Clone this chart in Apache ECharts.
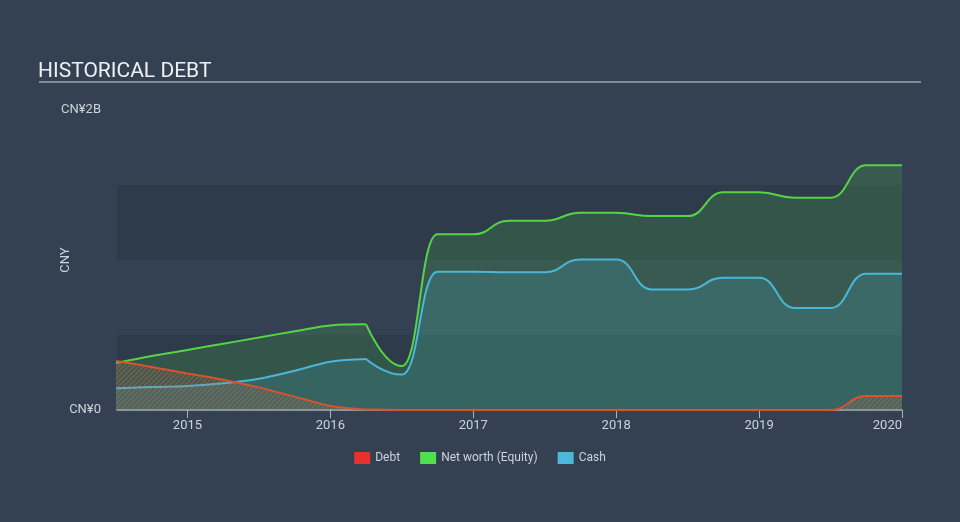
<!DOCTYPE html>
<html>
<head>
<meta charset="utf-8">
<script src="https://cdn.jsdelivr.net/npm/echarts@6/dist/echarts.min.js"></script>
<style>
html,body{margin:0;padding:0;background:#334152;}
#chart{width:960px;height:522px;}
</style>
</head>
<body>
<div id="chart"></div>
<script>
// Time points in decimal years (quarterly)
const periods = [2014.5, 2014.75, 2015.0, 2015.25, 2015.5, 2015.75, 2016.0, 2016.25, 2016.5, 2016.75,
  2017.0, 2017.25, 2017.5, 2017.75, 2018.0, 2018.25, 2018.5, 2018.75, 2019.0, 2019.25, 2019.5, 2019.75, 2020.0];
// Values in CNY billions
const debt = [0.327, 0.287, 0.243, 0.202, 0.151, 0.089, 0.027, 0.003, 0, 0,
  0, 0, 0, 0, 0, 0, 0, 0, 0, 0, 0, 0.093, 0.093];
const netWorth = [0.313, 0.36, 0.40, 0.442, 0.483, 0.525, 0.564, 0.571, 0.293, 1.171,
  1.171, 1.262, 1.262, 1.315, 1.315, 1.293, 1.293, 1.451, 1.451, 1.415, 1.415, 1.631, 1.631];
const cash = [0.145, 0.153, 0.16, 0.178, 0.209, 0.262, 0.322, 0.34, 0.236, 0.922,
  0.922, 0.918, 0.918, 1.004, 1.004, 0.804, 0.804, 0.882, 0.882, 0.68, 0.68, 0.909, 0.909];
const yearTicks = [2015, 2016, 2017, 2018, 2019, 2020];
const seriesNames = ['Debt', 'Net worth (Equity)', 'Cash'];
const SPLIT = 7; // index where the reporting switches from trend to step-like changes

function pairs(vals, from, to) {
  return periods.slice(from, to).map((p, i) => [p, vals[from + i] * 1e9]);
}

// hatch pattern for debt
const hatch = document.createElement('canvas');
hatch.width = 5; hatch.height = 5;
(function () {
  const c = hatch.getContext('2d');
  c.fillStyle = 'rgba(150,150,150,0.16)';
  c.fillRect(0, 0, 5, 5);
  c.strokeStyle = 'rgba(228,100,62,0.62)';
  c.lineWidth = 1.3;
  c.beginPath();
  c.moveTo(-1, 6); c.lineTo(6, -1);
  c.moveTo(-1, 1); c.lineTo(1, -1);
  c.moveTo(4, 6); c.lineTo(6, 4);
  c.stroke();
})();

const axisText = '#cdd3da';
const styles = {
  'Net worth (Equity)': {vals: netWorth, z: 2, color: '#4fe04f', line: '#55d446', area: 'rgba(80,210,80,0.25)'},
  'Cash': {vals: cash, z: 3, color: '#4cb8dc', line: '#4ab6d8', area: 'rgba(76,184,220,0.23)'},
  'Debt': {vals: debt, z: 4, color: '#e8312f', line: '#d9532f', area: {image: hatch, repeat: 'repeat'}}
};
const series = [];
Object.keys(styles).forEach(name => {
  const s = styles[name];
  [[0, SPLIT + 1, {smooth: 0.35}], [SPLIT, periods.length, {smooth: 0.5, smoothMonotone: 'x'}]].forEach(([a, b, sm]) => {
    series.push(Object.assign({
      name: name, type: 'line', data: pairs(s.vals, a, b), z: s.z,
      symbol: 'none', showSymbol: false, color: s.color,
      lineStyle: {color: s.line, width: 2},
      areaStyle: {color: s.area, origin: 'start'}
    }, sm));
  });
});

const chart = echarts.init(document.getElementById('chart'), null, {renderer: 'canvas'});
chart.setOption({
  backgroundColor: '#334152',
  animation: false,
  title: {
    text: 'HISTORICAL DEBT', left: 33, top: 56,
    textStyle: {color: '#eef0f2', fontSize: 21, fontWeight: 'normal', fontFamily: 'Roboto'}
  },
  graphic: [{
    type: 'line', shape: {x1: 39, y1: 82, x2: 921, y2: 82},
    style: {stroke: '#9aa4ae', lineWidth: 1.5}
  }],
  legend: {
    data: seriesNames, bottom: 53, left: 'center', itemWidth: 16, itemHeight: 12, itemGap: 20,
    icon: 'rect',
    textStyle: {color: axisText, fontSize: 12, fontFamily: 'Roboto'}
  },
  grid: {left: 117, right: 58, top: 110, bottom: 112, containLabel: false},
  xAxis: {
    type: 'value', min: 2014.507, max: 2020.0,
    axisLine: {lineStyle: {color: '#aab3bc', width: 1.5}},
    axisTick: {show: true, customValues: yearTicks, length: 8, lineStyle: {color: '#aab3bc'}},
    axisLabel: {customValues: yearTicks, color: axisText, fontSize: 13, fontFamily: 'Roboto', margin: 9,
      alignMaxLabel: 'right', formatter: v => String(Math.round(v))},
    splitLine: {show: false}
  },
  yAxis: {
    type: 'value', min: 0, max: 2e9, interval: 0.5e9,
    name: 'CNY', nameLocation: 'middle', nameGap: 45, nameRotate: 90, nameMoveOverlap: false,
    nameTextStyle: {color: axisText, fontSize: 13, fontFamily: 'Roboto'},
    axisLine: {show: false}, axisTick: {show: false},
    axisLabel: {color: axisText, fontSize: 13, fontFamily: 'Roboto', margin: 16,
      formatter: v => v === 0 ? 'CN¥0' : (v === 2e9 ? 'CN¥2B' : '')},
    splitLine: {show: false},
    splitArea: {show: true, areaStyle: {color: ['rgba(0,0,0,0.09)', 'rgba(0,0,0,0)']}}
  },
  series: series
});
</script>
</body>
</html>
